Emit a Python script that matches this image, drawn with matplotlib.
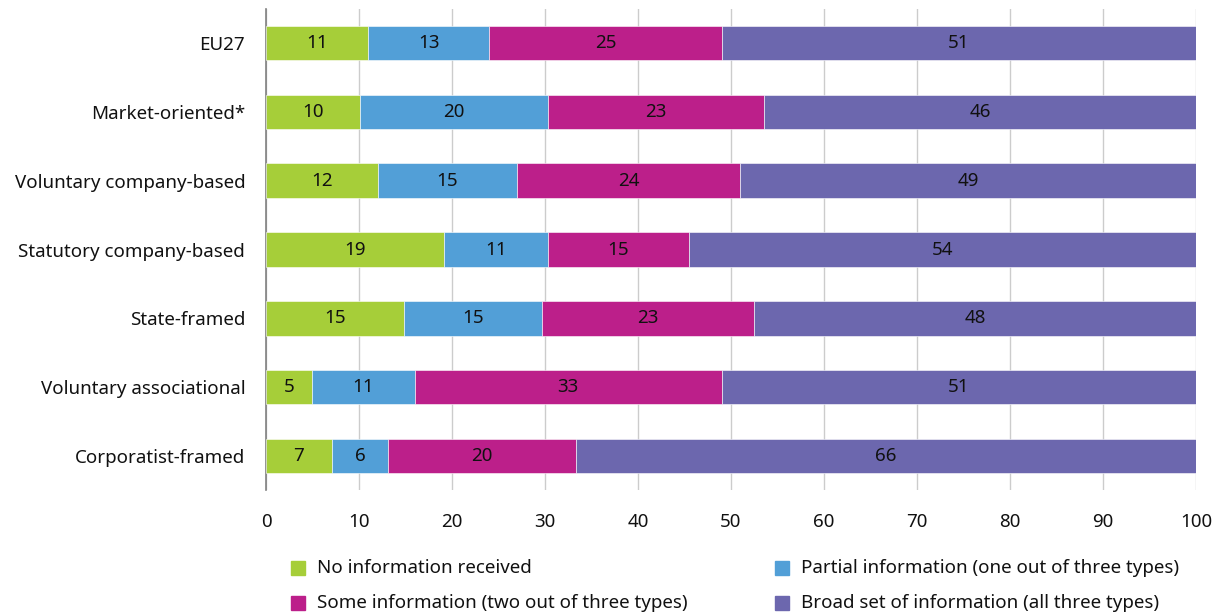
import matplotlib
matplotlib.use("Agg")
import matplotlib.pyplot as plt
from matplotlib.patches import Rectangle
import numpy as np

plt.rcParams['font.family'] = ['Noto Sans', 'DejaVu Sans']

categories = [
    "EU27",
    "Market-oriented*",
    "Voluntary company-based",
    "Statutory company-based",
    "State-framed",
    "Voluntary associational",
    "Corporatist-framed",
]
no_info = [11, 10, 12, 19, 15, 5, 7]
partial_info = [13, 20, 15, 11, 15, 11, 6]
some_info = [25, 23, 24, 15, 23, 33, 20]
broad_info = [51, 46, 49, 54, 48, 51, 66]

series_names = [
    "No information received",
    "Partial information (one out of three types)",
    "Some information (two out of three types)",
    "Broad set of information (all three types)",
]
colors = ["#A6CE39", "#529FD7", "#BC1F8A", "#6C67AE"]
x_ticks = list(range(0, 101, 10))

values = np.array([no_info, partial_info, some_info, broad_info], dtype=float)
# each row is a percentage breakdown; scale so each bar spans the full 100
shares = values / values.sum(axis=0) * 100

FS = 13.5
TXT = "#111111"

fig = plt.figure(figsize=(12.2, 6.15), dpi=100)
ax = fig.add_axes([0.218, 0.2026, 0.7623, 0.7834])

y = np.arange(len(categories))
left = np.zeros(len(categories))
for i in range(4):
    ax.barh(y, shares[i], left=left, height=0.5, color=colors[i],
            edgecolor="white", linewidth=0.4, zorder=3)
    for j in range(len(categories)):
        ax.text(left[j] + shares[i][j] / 2, y[j], f"{int(values[i][j])}",
                ha="center", va="center", fontsize=FS, color=TXT, zorder=4)
    left += shares[i]

ax.set_xlim(0, 100)
ax.set_ylim(len(categories) - 0.5, -0.5)
ax.set_yticks(y)
ax.set_yticklabels(categories, fontsize=FS, color=TXT)
ax.set_xticks(x_ticks)
ax.set_xticklabels([str(t) for t in x_ticks], fontsize=FS, color=TXT)
ax.tick_params(axis="y", length=0, pad=15)
ax.tick_params(axis="x", length=0, pad=16)
ax.xaxis.grid(True, color="#cccccc", linewidth=1.0, zorder=0)
ax.set_axisbelow(True)
for s in ["top", "right", "bottom"]:
    ax.spines[s].set_visible(False)
ax.spines["left"].set_color("#808080")
ax.spines["left"].set_linewidth(1.2)

# legend in two columns below the plot
legend_pos = [(291, 568), (775, 568), (291, 603), (775, 603)]
W, H = 1220, 615
sq = 14
for (px, py), name, c in zip(legend_pos, series_names, colors):
    fig.add_artist(Rectangle(((px) / W, (H - py - sq / 2) / H), sq / W, sq / H,
                             transform=fig.transFigure, color=c))
    fig.text((px + 26) / W, (H - py) / H, name, ha="left", va="center",
             fontsize=FS, color=TXT)

fig.savefig("out.png", dpi=100)
